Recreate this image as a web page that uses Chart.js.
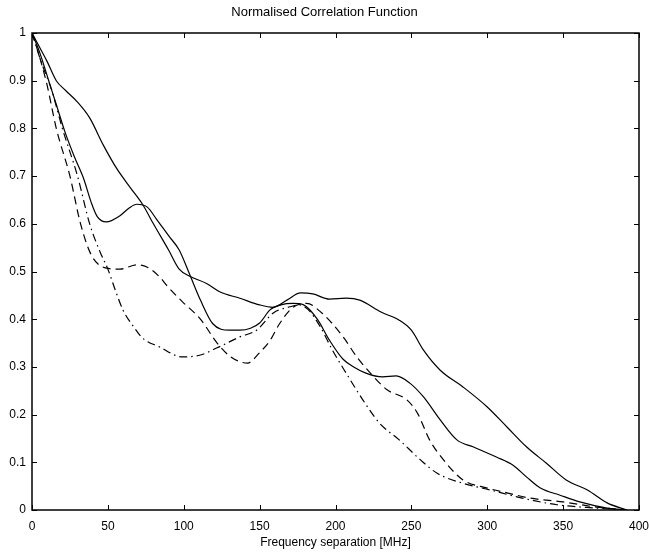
<!DOCTYPE html>
<html>
<head>
<meta charset="utf-8">
<script src="https://cdn.jsdelivr.net/npm/chart.js@4.4.0/dist/chart.umd.min.js"></script>
<style>
html,body{margin:0;padding:0;background:#fff;}
#wrap{width:649px;height:553px;}
</style>
</head>
<body>
<div id="wrap"><canvas id="c" width="649" height="553"></canvas></div>
<script>
// ---- data ----
const chartTitle = "Normalised Correlation Function";
const xAxisTitle = "Frequency separation [MHz]";
const xTicks = [0, 50, 100, 150, 200, 250, 300, 350, 400];
const yTicks = [0, 0.1, 0.2, 0.3, 0.4, 0.5, 0.6, 0.7, 0.8, 0.9, 1];

// upper solid curve
const freqA = [0,5,10,16,22,30,38,47,56,65,73,80,90,97,104,115,124,137,150,159,168,177,185,196,207,216,230,242,250,258,269,284,300,313,326,339,352,366,379,392];
const corrA = [1,0.97,0.94,0.90,0.88,0.855,0.822,0.765,0.715,0.675,0.64,0.60,0.545,0.505,0.49,0.475,0.457,0.444,0.43,0.425,0.44,0.455,0.453,0.442,0.444,0.44,0.415,0.398,0.377,0.335,0.293,0.258,0.216,0.174,0.132,0.098,0.063,0.042,0.015,0];

// lower solid curve
const freqB = [0,5,11,16,22,28,34,39,43,49,58,64,69,76,82,90,97,104,111,119,130,137,144,150,157,164,172,179,188,196,205,212,220,231,240,249,258,269,280,291,306,317,326,335,348,361,379,392];
const corrB = [1,0.96,0.9,0.85,0.79,0.74,0.695,0.645,0.615,0.604,0.617,0.633,0.641,0.635,0.61,0.575,0.545,0.493,0.44,0.391,0.377,0.377,0.381,0.392,0.42,0.43,0.433,0.43,0.40,0.356,0.316,0.30,0.287,0.279,0.281,0.266,0.237,0.189,0.147,0.132,0.111,0.094,0.069,0.046,0.031,0.017,0.004,0];

// dashed curve
const freqC = [0,5,10,16,25,32,39,49,58,69,76,84,89,99,111,122,131,142,150,157,163,172,181,191,205,214,223,234,247,254,262,273,284,300,313,328,350,372,392];
const corrC = [1,0.95,0.89,0.8,0.7,0.6,0.535,0.507,0.505,0.514,0.509,0.489,0.47,0.437,0.40,0.35,0.321,0.308,0.33,0.356,0.39,0.425,0.433,0.413,0.363,0.321,0.287,0.252,0.231,0.203,0.147,0.098,0.063,0.046,0.036,0.025,0.017,0.006,0];

// dash-dot curve
const freqD = [0,6,13,20,30,38,45,50,55,60,67,73,84,99,111,122,137,148,159,170,176,182,190,198,207,218,229,242,256,267,284,302,323,346,372,392];
const corrD = [1,0.94,0.88,0.8,0.7,0.6,0.54,0.505,0.46,0.419,0.384,0.36,0.342,0.321,0.325,0.34,0.363,0.377,0.413,0.426,0.43,0.42,0.384,0.335,0.287,0.231,0.182,0.147,0.105,0.077,0.056,0.042,0.025,0.011,0.004,0];

function pts(xs, ys){ return xs.map((x,i)=>({x:x, y:ys[i]})); }

const FONT = "'Liberation Sans', Arial, Helvetica, sans-serif";

const boxTicks = {
  id: 'boxTicks',
  afterDraw(chart){
    const ctx = chart.ctx, a = chart.chartArea;
    const xs = chart.scales.x, ys = chart.scales.y;
    ctx.save();
    ctx.strokeStyle = '#000';
    ctx.lineWidth = 1;
    const L = 5;
    ctx.beginPath();
    xTicks.forEach(v=>{
      const px = Math.round(xs.getPixelForValue(v)) + 0.5;
      ctx.moveTo(px, a.bottom); ctx.lineTo(px, a.bottom - L);
      ctx.moveTo(px, a.top); ctx.lineTo(px, a.top + L);
    });
    yTicks.forEach(v=>{
      const py = Math.round(ys.getPixelForValue(v)) + 0.5;
      ctx.moveTo(a.left, py); ctx.lineTo(a.left + L, py);
      ctx.moveTo(a.right, py); ctx.lineTo(a.right - L, py);
    });
    ctx.stroke();
    ctx.lineWidth = 1.5;
    ctx.strokeRect(a.left, a.top, a.right - a.left, a.bottom - a.top);
    ctx.restore();
  }
};

const common = {borderColor:'#000', borderWidth:1.2, pointRadius:0, fill:false, cubicInterpolationMode:'monotone'};

new Chart(document.getElementById('c'), {
  type: 'line',
  data: {
    datasets: [
      Object.assign({label:'A', data: pts(freqA, corrA)}, common),
      Object.assign({label:'B', data: pts(freqB, corrB)}, common),
      Object.assign({label:'C', data: pts(freqC, corrC), borderDash:[8,5]}, common),
      Object.assign({label:'D', data: pts(freqD, corrD), borderDash:[8,4,1.5,4]}, common)
    ]
  },
  options: {
    responsive: false,
    animation: false,
    devicePixelRatio: 1,
    layout: {padding: {top:0, left:0, right:0, bottom:0}},
    plugins: {
      legend: {display:false},
      tooltip: {enabled:false},
      title: {
        display: true,
        text: chartTitle,
        color: '#000',
        font: {family: FONT, size: 13, weight: 'normal'},
        padding: {top: 5, bottom: 12.4}
      }
    },
    scales: {
      x: {
        type: 'linear', min: 0, max: 400,
        afterBuildTicks(s){ s.ticks = xTicks.map(v=>({value:v})); },
        afterFit(s){ s.height = 43; s.paddingRight = 10; },
        grid: {display:false, drawTicks:false},
        border: {display:false},
        ticks: {color:'#000', font:{family:FONT, size:12}, padding:9, maxRotation:0, autoSkip:false,
                callback: v => String(v)},
        title: {display:true, text:xAxisTitle, color:'#000', font:{family:FONT, size:12}, padding:{top:0, bottom:3}}
      },
      y: {
        type: 'linear', min: 0, max: 1,
        afterBuildTicks(s){ s.ticks = yTicks.map(v=>({value:v})); },
        afterFit(s){ s.width = 32; },
        grid: {display:false, drawTicks:false},
        border: {display:false},
        ticks: {color:'#000', font:{family:FONT, size:12}, padding:6, autoSkip:false,
                callback: v => String(Math.round(v*10)/10)}
      }
    }
  },
  plugins: [boxTicks]
});
</script>
</body>
</html>
